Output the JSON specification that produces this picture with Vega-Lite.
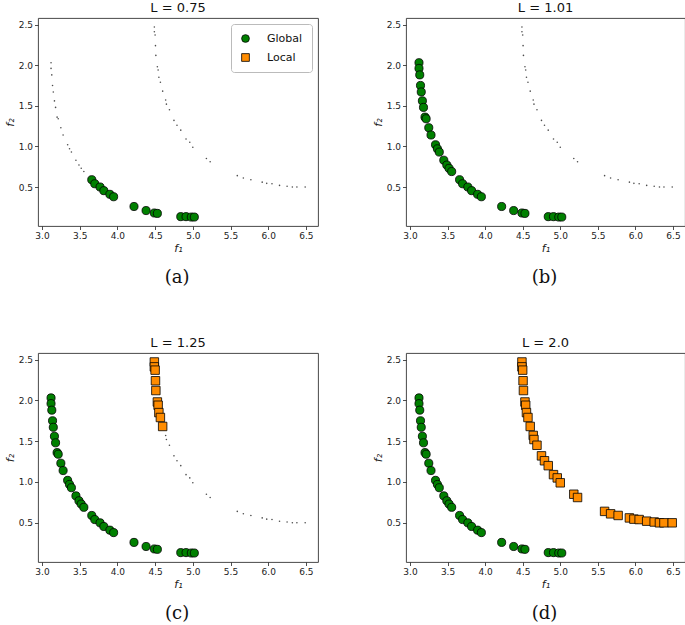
{
  "$schema": "https://vega.github.io/schema/vega-lite/v6.json",
  "padding": {"left": 3, "top": 1, "right": 0, "bottom": 0},
  "background": "white",
  "datasets": {
    "global": [
      {"f1": 3.12, "f2": 2.03, "type": "Global"},
      {"f1": 3.12, "f2": 1.96, "type": "Global"},
      {"f1": 3.13, "f2": 1.88, "type": "Global"},
      {"f1": 3.14, "f2": 1.75, "type": "Global"},
      {"f1": 3.15, "f2": 1.67, "type": "Global"},
      {"f1": 3.165, "f2": 1.56, "type": "Global"},
      {"f1": 3.18, "f2": 1.48, "type": "Global"},
      {"f1": 3.2, "f2": 1.36, "type": "Global"},
      {"f1": 3.215, "f2": 1.34, "type": "Global"},
      {"f1": 3.25, "f2": 1.23, "type": "Global"},
      {"f1": 3.28, "f2": 1.14, "type": "Global"},
      {"f1": 3.34, "f2": 1.02, "type": "Global"},
      {"f1": 3.365, "f2": 0.97, "type": "Global"},
      {"f1": 3.39, "f2": 0.93, "type": "Global"},
      {"f1": 3.45, "f2": 0.83, "type": "Global"},
      {"f1": 3.49, "f2": 0.77, "type": "Global"},
      {"f1": 3.52, "f2": 0.73, "type": "Global"},
      {"f1": 3.555, "f2": 0.69, "type": "Global"},
      {"f1": 3.66, "f2": 0.59, "type": "Global"},
      {"f1": 3.7, "f2": 0.54, "type": "Global"},
      {"f1": 3.77, "f2": 0.5, "type": "Global"},
      {"f1": 3.82, "f2": 0.455, "type": "Global"},
      {"f1": 3.9, "f2": 0.41, "type": "Global"},
      {"f1": 3.95, "f2": 0.38, "type": "Global"},
      {"f1": 4.22, "f2": 0.26, "type": "Global"},
      {"f1": 4.38, "f2": 0.21, "type": "Global"},
      {"f1": 4.49, "f2": 0.18, "type": "Global"},
      {"f1": 4.53, "f2": 0.175, "type": "Global"},
      {"f1": 4.84, "f2": 0.135, "type": "Global"},
      {"f1": 4.91, "f2": 0.135, "type": "Global"},
      {"f1": 4.98, "f2": 0.13, "type": "Global"},
      {"f1": 5.02, "f2": 0.13, "type": "Global"}
    ],
    "local": [
      {"f1": 4.49, "f2": 2.47, "type": "Local"},
      {"f1": 4.49, "f2": 2.41, "type": "Local"},
      {"f1": 4.5, "f2": 2.37, "type": "Local"},
      {"f1": 4.505, "f2": 2.24, "type": "Local"},
      {"f1": 4.51, "f2": 2.12, "type": "Local"},
      {"f1": 4.53, "f2": 1.98, "type": "Local"},
      {"f1": 4.54, "f2": 1.94, "type": "Local"},
      {"f1": 4.55, "f2": 1.85, "type": "Local"},
      {"f1": 4.57, "f2": 1.79, "type": "Local"},
      {"f1": 4.6, "f2": 1.68, "type": "Local"},
      {"f1": 4.64, "f2": 1.57, "type": "Local"},
      {"f1": 4.65, "f2": 1.52, "type": "Local"},
      {"f1": 4.69, "f2": 1.45, "type": "Local"},
      {"f1": 4.75, "f2": 1.32, "type": "Local"},
      {"f1": 4.79, "f2": 1.26, "type": "Local"},
      {"f1": 4.84, "f2": 1.2, "type": "Local"},
      {"f1": 4.91, "f2": 1.09, "type": "Local"},
      {"f1": 4.96, "f2": 1.05, "type": "Local"},
      {"f1": 5.0, "f2": 0.99, "type": "Local"},
      {"f1": 5.18, "f2": 0.85, "type": "Local"},
      {"f1": 5.23, "f2": 0.81, "type": "Local"},
      {"f1": 5.59, "f2": 0.64, "type": "Local"},
      {"f1": 5.67, "f2": 0.61, "type": "Local"},
      {"f1": 5.77, "f2": 0.59, "type": "Local"},
      {"f1": 5.92, "f2": 0.56, "type": "Local"},
      {"f1": 5.98, "f2": 0.545, "type": "Local"},
      {"f1": 6.05, "f2": 0.54, "type": "Local"},
      {"f1": 6.15, "f2": 0.52, "type": "Local"},
      {"f1": 6.25, "f2": 0.51, "type": "Local"},
      {"f1": 6.32, "f2": 0.5, "type": "Local"},
      {"f1": 6.38, "f2": 0.5, "type": "Local"},
      {"f1": 6.49, "f2": 0.5, "type": "Local"}
    ]
  },
  "columns": 2,
  "spacing": {"row": 49, "column": 52},
  "resolve": {
    "scale": {"color": "independent", "shape": "independent", "x": "independent", "y": "independent"},
    "legend": {"color": "independent", "shape": "independent"}
  },
  "concat": [
    {
      "title": {"text": "(a)", "orient": "bottom", "anchor": "middle", "frame": "bounds", "dx": 16, "font": "DejaVu Serif", "fontSize": 18, "fontWeight": "normal", "offset": 15, "color": "#111"},
      "resolve": {"scale": {"color": "independent", "shape": "independent"}, "legend": {"color": "independent", "shape": "independent"}},
      "vconcat": [
        {
          "title": "L = 0.75",
          "width": 280,
          "height": 208,
          "encoding": {
            "x": {"field": "f1", "type": "quantitative", "scale": {"domain": [2.947, 6.66], "nice": false, "zero": false}, "axis": {"values": [3, 3.5, 4, 4.5, 5, 5.5, 6, 6.5], "format": ".1f", "title": "f₁"}},
            "y": {"field": "f2", "type": "quantitative", "scale": {"domain": [0.02, 2.58], "nice": false, "zero": false}, "axis": {"values": [0.5, 1, 1.5, 2, 2.5], "format": ".1f", "title": "f₂"}}
          },
          "layer": [
            {"data": {"name": "global"}, "mark": {"type": "point", "filled": true, "color": "black", "size": 2.5, "strokeWidth": 0}},
            {"data": {"name": "local"}, "mark": {"type": "point", "filled": true, "color": "black", "size": 2.5, "strokeWidth": 0}},
            {
              "data": {"name": "global"},
              "transform": [{"filter": "datum.f1 >= 3.6"}],
              "mark": {"type": "point", "filled": true, "stroke": "black", "strokeWidth": 0.8, "size": 66, "opacity": 1},
              "encoding": {
                "color": {"field": "type", "type": "nominal", "scale": {"domain": ["Global", "Local"], "range": ["#008000", "#ff8c00"]}, "legend": {"title": null, "orient": "top-right", "encode": {"symbols": {"update": {"stroke": {"value": "black"}, "strokeWidth": {"value": 0.8}}}, "legend": {"update": {"stroke": {"value": "#bbbbbb"}, "fill": {"value": "white"}, "cornerRadius": {"value": 3}, "strokeWidth": {"value": 1}}}}}},
                "shape": {"field": "type", "type": "nominal", "scale": {"domain": ["Global", "Local"], "range": ["circle", "square"]}, "legend": {"title": null, "orient": "top-right", "encode": {"symbols": {"update": {"stroke": {"value": "black"}, "strokeWidth": {"value": 0.8}}}, "legend": {"update": {"stroke": {"value": "#bbbbbb"}, "fill": {"value": "white"}, "cornerRadius": {"value": 3}, "strokeWidth": {"value": 1}}}}}}
              }
            }
          ]
        }
      ]
    },
    {
      "title": {"text": "(b)", "orient": "bottom", "anchor": "middle", "frame": "bounds", "dx": 16, "font": "DejaVu Serif", "fontSize": 18, "fontWeight": "normal", "offset": 15, "color": "#111"},
      "resolve": {"scale": {"color": "independent", "shape": "independent"}, "legend": {"color": "independent", "shape": "independent"}},
      "vconcat": [
        {
          "title": "L = 1.01",
          "width": 279,
          "height": 208,
          "encoding": {
            "x": {"field": "f1", "type": "quantitative", "scale": {"domain": [2.947, 6.66], "nice": false, "zero": false}, "axis": {"values": [3, 3.5, 4, 4.5, 5, 5.5, 6, 6.5], "format": ".1f", "title": "f₁"}},
            "y": {"field": "f2", "type": "quantitative", "scale": {"domain": [0.02, 2.58], "nice": false, "zero": false}, "axis": {"values": [0.5, 1, 1.5, 2, 2.5], "format": ".1f", "title": "f₂"}}
          },
          "layer": [
            {"data": {"name": "global"}, "mark": {"type": "point", "filled": true, "color": "black", "size": 2.5, "strokeWidth": 0}},
            {"data": {"name": "local"}, "mark": {"type": "point", "filled": true, "color": "black", "size": 2.5, "strokeWidth": 0}},
            {
              "data": {"name": "global"},
              "mark": {"type": "point", "filled": true, "stroke": "black", "strokeWidth": 0.8, "size": 66, "opacity": 1},
              "encoding": {
                "color": {"field": "type", "type": "nominal", "scale": {"domain": ["Global", "Local"], "range": ["#008000", "#ff8c00"]}, "legend": null},
                "shape": {"field": "type", "type": "nominal", "scale": {"domain": ["Global", "Local"], "range": ["circle", "square"]}, "legend": null}
              }
            }
          ]
        }
      ]
    },
    {
      "title": {"text": "(c)", "orient": "bottom", "anchor": "middle", "frame": "bounds", "dx": 16, "font": "DejaVu Serif", "fontSize": 18, "fontWeight": "normal", "offset": 15, "color": "#111"},
      "resolve": {"scale": {"color": "independent", "shape": "independent"}, "legend": {"color": "independent", "shape": "independent"}},
      "vconcat": [
        {
          "title": "L = 1.25",
          "width": 280,
          "height": 209,
          "encoding": {
            "x": {"field": "f1", "type": "quantitative", "scale": {"domain": [2.947, 6.66], "nice": false, "zero": false}, "axis": {"values": [3, 3.5, 4, 4.5, 5, 5.5, 6, 6.5], "format": ".1f", "title": "f₁"}},
            "y": {"field": "f2", "type": "quantitative", "scale": {"domain": [0.02, 2.58], "nice": false, "zero": false}, "axis": {"values": [0.5, 1, 1.5, 2, 2.5], "format": ".1f", "title": "f₂"}}
          },
          "layer": [
            {"data": {"name": "global"}, "mark": {"type": "point", "filled": true, "color": "black", "size": 2.5, "strokeWidth": 0}},
            {"data": {"name": "local"}, "mark": {"type": "point", "filled": true, "color": "black", "size": 2.5, "strokeWidth": 0}},
            {
              "data": {"name": "global"},
              "mark": {"type": "point", "filled": true, "stroke": "black", "strokeWidth": 0.8, "size": 66, "opacity": 1},
              "encoding": {
                "color": {"field": "type", "type": "nominal", "scale": {"domain": ["Global", "Local"], "range": ["#008000", "#ff8c00"]}, "legend": null},
                "shape": {"field": "type", "type": "nominal", "scale": {"domain": ["Global", "Local"], "range": ["circle", "square"]}, "legend": null}
              }
            },
            {
              "data": {"name": "local"},
              "transform": [{"filter": "datum.f2 >= 1.65"}],
              "mark": {"type": "point", "filled": true, "stroke": "black", "strokeWidth": 0.8, "size": 72, "opacity": 1},
              "encoding": {
                "color": {"field": "type", "type": "nominal", "scale": {"domain": ["Global", "Local"], "range": ["#008000", "#ff8c00"]}, "legend": null},
                "shape": {"field": "type", "type": "nominal", "scale": {"domain": ["Global", "Local"], "range": ["circle", "square"]}, "legend": null}
              }
            }
          ]
        }
      ]
    },
    {
      "title": {"text": "(d)", "orient": "bottom", "anchor": "middle", "frame": "bounds", "dx": 16, "font": "DejaVu Serif", "fontSize": 18, "fontWeight": "normal", "offset": 15, "color": "#111"},
      "resolve": {"scale": {"color": "independent", "shape": "independent"}, "legend": {"color": "independent", "shape": "independent"}},
      "vconcat": [
        {
          "title": "L = 2.0",
          "width": 279,
          "height": 209,
          "encoding": {
            "x": {"field": "f1", "type": "quantitative", "scale": {"domain": [2.947, 6.66], "nice": false, "zero": false}, "axis": {"values": [3, 3.5, 4, 4.5, 5, 5.5, 6, 6.5], "format": ".1f", "title": "f₁"}},
            "y": {"field": "f2", "type": "quantitative", "scale": {"domain": [0.02, 2.58], "nice": false, "zero": false}, "axis": {"values": [0.5, 1, 1.5, 2, 2.5], "format": ".1f", "title": "f₂"}}
          },
          "layer": [
            {"data": {"name": "global"}, "mark": {"type": "point", "filled": true, "color": "black", "size": 2.5, "strokeWidth": 0}},
            {"data": {"name": "local"}, "mark": {"type": "point", "filled": true, "color": "black", "size": 2.5, "strokeWidth": 0}},
            {
              "data": {"name": "global"},
              "mark": {"type": "point", "filled": true, "stroke": "black", "strokeWidth": 0.8, "size": 66, "opacity": 1},
              "encoding": {
                "color": {"field": "type", "type": "nominal", "scale": {"domain": ["Global", "Local"], "range": ["#008000", "#ff8c00"]}, "legend": null},
                "shape": {"field": "type", "type": "nominal", "scale": {"domain": ["Global", "Local"], "range": ["circle", "square"]}, "legend": null}
              }
            },
            {
              "data": {"name": "local"},
              "mark": {"type": "point", "filled": true, "stroke": "black", "strokeWidth": 0.8, "size": 72, "opacity": 1},
              "encoding": {
                "color": {"field": "type", "type": "nominal", "scale": {"domain": ["Global", "Local"], "range": ["#008000", "#ff8c00"]}, "legend": null},
                "shape": {"field": "type", "type": "nominal", "scale": {"domain": ["Global", "Local"], "range": ["circle", "square"]}, "legend": null}
              }
            }
          ]
        }
      ]
    }
  ],
  "config": {
    "font": "DejaVu Sans",
    "view": {"stroke": "#333333", "strokeWidth": 0.9},
    "axis": {"grid": false, "domain": false, "tickColor": "#222222", "tickSize": 3.5, "tickWidth": 0.8, "labelFontSize": 9, "labelColor": "#222222", "labelFont": "DejaVu Sans", "titleFont": "DejaVu Sans", "titleFontStyle": "italic", "titleFontWeight": "normal", "titleFontSize": 11, "titleColor": "#222222", "labelPadding": 2},
    "axisX": {"titlePadding": 2},
    "axisY": {"titlePadding": 3},
    "legend": {"offset": 6, "padding": 9, "fillColor": "white", "strokeColor": "#bbbbbb", "cornerRadius": 3, "labelFontSize": 11, "labelColor": "#111111", "symbolSize": 60, "symbolStrokeColor": "black", "symbolStrokeWidth": 0.8, "symbolOpacity": 1, "rowPadding": 7, "labelOffset": 16},
    "title": {"fontSize": 13, "fontWeight": "normal", "font": "DejaVu Sans", "offset": 3, "color": "#111111"}
  }
}
